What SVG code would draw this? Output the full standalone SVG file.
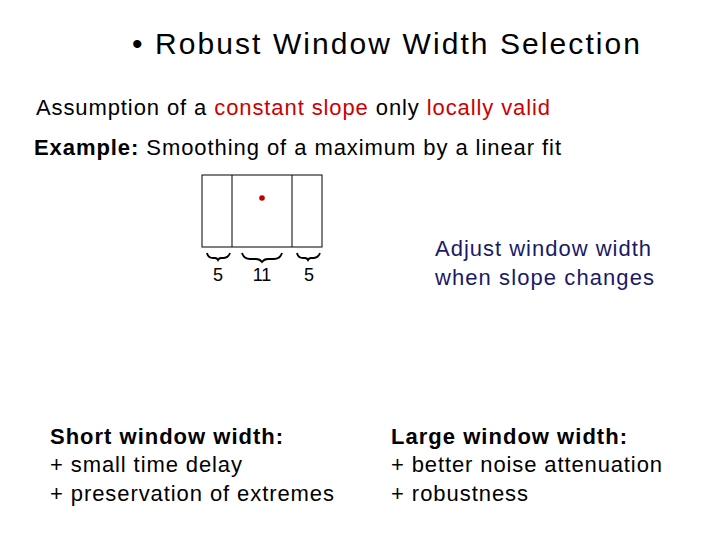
<svg xmlns="http://www.w3.org/2000/svg" width="720" height="540" viewBox="0 0 720 540">
<style>
text{font-family:"Liberation Sans",Arial,sans-serif;fill:#000}
.r{fill:#cc0000}
.b{fill:#1a1a66}
.br{fill:none;stroke:#000;stroke-width:1.8}
</style>
<rect width="720" height="540" fill="#fff"/>
<text x="132" y="54" font-size="30" textLength="508" lengthAdjust="spacing">• Robust Window Width Selection</text>
<text x="36" y="115" font-size="22" textLength="514" lengthAdjust="spacing">Assumption of a <tspan class="r">constant slope</tspan> only <tspan class="r">locally valid</tspan></text>
<text x="34" y="155" font-size="22" textLength="527" lengthAdjust="spacing"><tspan font-weight="bold">Example:</tspan> Smoothing of a maximum by a linear fit</text>
<g id="window">
<rect x="202" y="175" width="120" height="72" fill="none" stroke="#000" stroke-width="1"/>
<line x1="232" y1="175" x2="232" y2="247" stroke="#000"/>
<line x1="292" y1="175" x2="292" y2="247" stroke="#000"/>
<circle cx="262" cy="198" r="2.8" fill="#c00000"/>
<path class="br" d="M207 253 Q208 258 213 258 L215 258 Q217 258 218 260 Q219 258 221 258 L224 258 Q228 258 230 253"/>
<path class="br" stroke-width="3" d="M242 253 Q244 259 250 259 L256 259 Q260 259 262 262 Q264 259 268 259 L274 259 Q280 259 282 253"/>
<path class="br" d="M297 253 Q298 258 303 258 L305 258 Q307 258 308 260 Q309 258 311 258 L314 258 Q318 258 320 253"/>
<text x="218" y="281" font-size="18" text-anchor="middle">5</text>
<text x="262" y="281" font-size="18" text-anchor="middle">11</text>
<text x="309" y="281" font-size="18" text-anchor="middle">5</text>
</g>
<g id="adjust">
<text class="b" x="435" y="256" font-size="22" textLength="216" lengthAdjust="spacing">Adjust window width</text>
<text class="b" x="435" y="285" font-size="22" textLength="219" lengthAdjust="spacing">when slope changes</text>
</g>
<g id="short">
<text x="50" y="444" font-size="22" font-weight="bold" textLength="233" lengthAdjust="spacing">Short window width:</text>
<text x="50" y="472" font-size="22" textLength="192" lengthAdjust="spacing">+ small time delay</text>
<text x="50" y="501" font-size="22" textLength="284" lengthAdjust="spacing">+ preservation of extremes</text>
</g>
<g id="large">
<text x="391" y="444" font-size="22" font-weight="bold" textLength="236" lengthAdjust="spacing">Large window width:</text>
<text x="391" y="472" font-size="22" textLength="271" lengthAdjust="spacing">+ better noise attenuation</text>
<text x="391" y="501" font-size="22" textLength="137" lengthAdjust="spacing">+ robustness</text>
</g>
</svg>
